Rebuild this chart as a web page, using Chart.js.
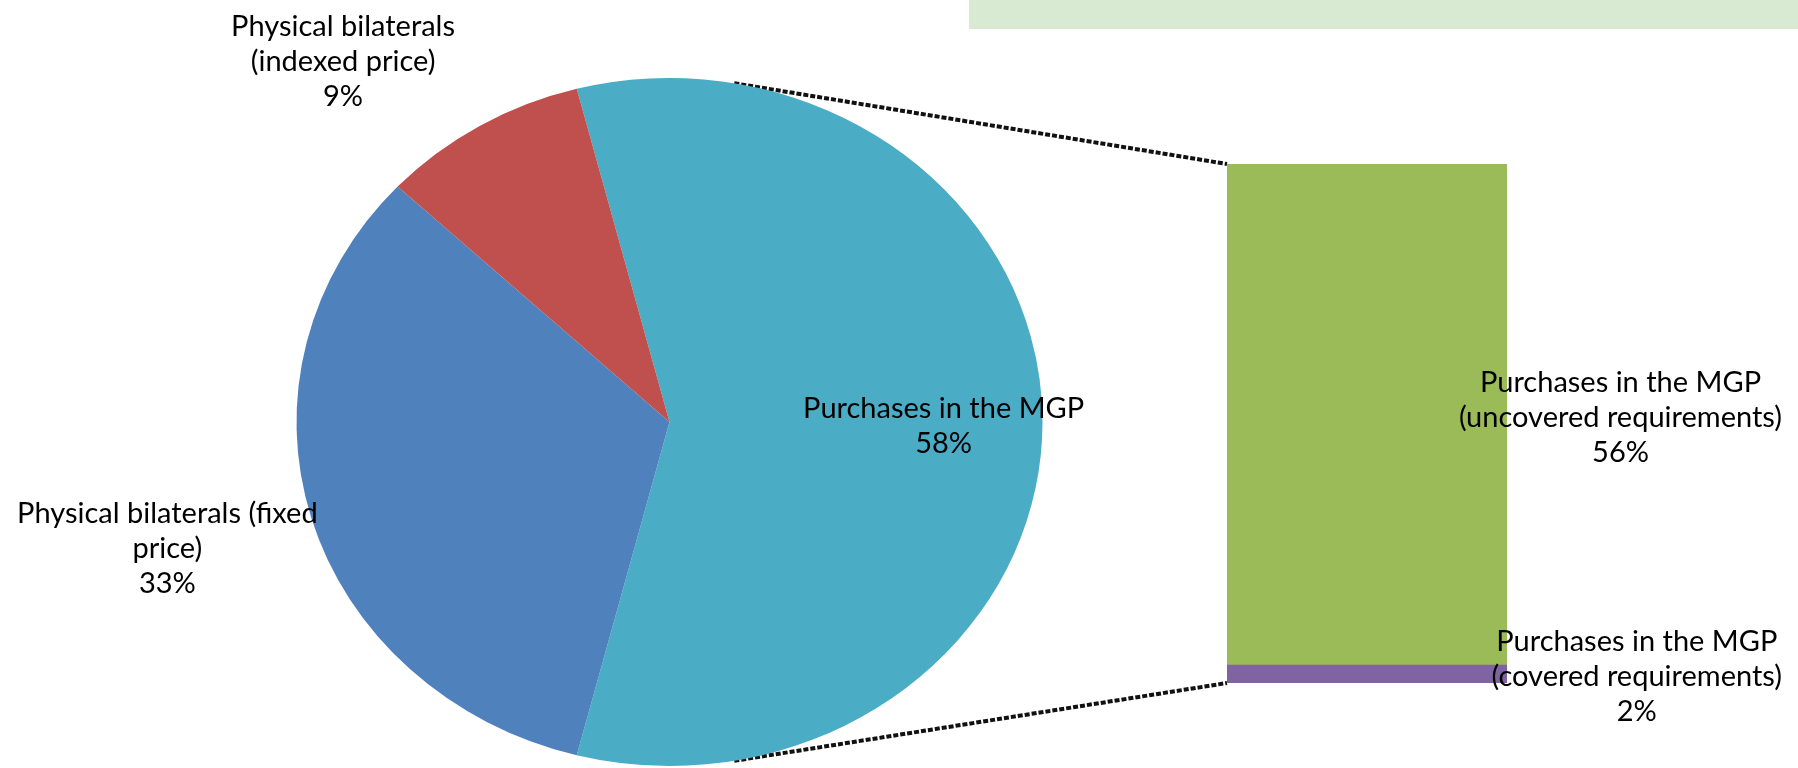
<!DOCTYPE html>
<html>
<head>
<meta charset="utf-8">
<title>Purchases in the MGP and physical bilaterals</title>
<script src="https://cdn.jsdelivr.net/npm/chart.js@4.4.1/dist/chart.umd.min.js"></script>
<style>
  html, body { margin: 0; padding: 0; background: #fff; }
  #wrap { position: relative; width: 1798px; height: 768px; overflow: hidden; }
  #wrap canvas { position: absolute; left: 0; top: 0; }
  #band { position: absolute; left: 969px; top: 0; width: 829px; height: 29px; background: #d9ead3; }
</style>
</head>
<body>
<div id="wrap">
  <div id="band"></div>
  <canvas id="pieChart" width="1798" height="768"></canvas>
  <canvas id="barChart" width="1798" height="768"></canvas>
</div>
<script>
// pie: split of total purchases (%)
const pieLabels = [
  ['Purchases in the MGP'],
  ['Physical bilaterals (fixed', 'price)'],
  ['Physical bilaterals', '(indexed price)']
];
const pieValues = [58, 33, 9];
const pieColors = ['#4bacc6', '#4f81bd', '#c0504d'];

// secondary bar: breakdown of the MGP slice (%), bottom segment first
const barLabels = [
  ['Purchases in the MGP', '(covered requirements)'],
  ['Purchases in the MGP', '(uncovered requirements)']
];
const barValues = [2, 56];
const barColors = ['#8064a2', '#9bbb59'];

// layout
const W = 1798, H = 768;
const PIE_CX = 669.5, PIE_CY = 422, PIE_R = 344, PIE_RX = 373;
const STRETCH = PIE_RX / PIE_R;      // the original pie is a little wider than tall
const BAR_LEFT = 1227, BAR_RIGHT = 1507, BAR_TOP = 164, BAR_BOTTOM = 683;
const LABEL_RIGHT = 1782;
const FONT = '29px Lato';
const LINE_H = 35;
const deg = Math.PI / 180;

function drawBlock(ctx, lines, cx, cy) {
  const top = cy - (lines.length - 1) * LINE_H / 2;
  lines.forEach((t, i) => ctx.fillText(t, cx, top + i * LINE_H));
}

function pct(v, total) {
  return Math.round(v / total * 100) + '%';
}

// labels to the right of the bar segments, right-aligned block, lines centred
const barLabelPlugin = {
  id: 'barLabels',
  afterDatasetsDraw(chart) {
    const ctx = chart.ctx;
    const total = barValues.reduce((a, b) => a + b, 0) + pieValues.slice(1).reduce((a, b) => a + b, 0);
    ctx.save();
    ctx.font = FONT;
    ctx.fillStyle = '#000';
    ctx.textAlign = 'center';
    ctx.textBaseline = 'middle';
    barValues.forEach((v, i) => {
      const bar = chart.getDatasetMeta(i).data[0];
      const lines = barLabels[i].concat([pct(v, total)]);
      const maxW = Math.max(...lines.map(t => ctx.measureText(t).width));
      drawBlock(ctx, lines, LABEL_RIGHT - maxW / 2, (bar.y + bar.base) / 2 + 3);
    });
    ctx.restore();
  }
};

const barTotal = barValues.reduce((a, b) => a + b, 0);
const barChart = new Chart(document.getElementById('barChart'), {
  type: 'bar',
  data: {
    labels: ['MGP'],
    datasets: barValues.map((v, i) => ({
      label: barLabels[i].join(' '),
      data: [v],
      backgroundColor: barColors[i],
      borderWidth: 0,
      barPercentage: 1,
      categoryPercentage: 1
    }))
  },
  options: {
    responsive: false,
    animation: false,
    layout: { padding: { left: BAR_LEFT, right: W - BAR_RIGHT, top: BAR_TOP, bottom: H - BAR_BOTTOM } },
    scales: {
      x: { display: false, stacked: true },
      y: { display: false, stacked: true, min: 0, max: barTotal }
    },
    plugins: { legend: { display: false }, tooltip: { enabled: false } }
  },
  plugins: [barLabelPlugin]
});

// dotted series lines from the pie edge to the bar corners
const connectorPlugin = {
  id: 'connectors',
  beforeDatasetsDraw(chart) {
    const ctx = chart.ctx;
    const arc = chart.getDatasetMeta(0).data[0];
    const r = arc.outerRadius;
    const a = 10 * deg;
    const top = barChart.getDatasetMeta(1).data[0];
    const bottom = barChart.getDatasetMeta(0).data[0];
    ctx.save();
    ctx.strokeStyle = '#111';
    ctx.lineWidth = 4;
    ctx.setLineDash([5, 2]);
    ctx.beginPath();
    ctx.moveTo(arc.x + r * STRETCH * Math.sin(a), arc.y - r * Math.cos(a));
    ctx.lineTo(top.x - top.width / 2, top.y);
    ctx.moveTo(arc.x + r * STRETCH * Math.sin(a), arc.y + r * Math.cos(a));
    ctx.lineTo(bottom.x - bottom.width / 2, bottom.base);
    ctx.stroke();
    ctx.restore();
  }
};

// stretch the circle horizontally into the ellipse of the original
const stretchPlugin = {
  id: 'stretch',
  beforeDatasetsDraw(chart) {
    const arc = chart.getDatasetMeta(0).data[0];
    const ctx = chart.ctx;
    ctx.save();
    ctx.translate(arc.x, arc.y);
    ctx.scale(STRETCH, 1);
    ctx.translate(-arc.x, -arc.y);
  },
  afterDatasetsDraw(chart) {
    chart.ctx.restore();
  }
};

// radial factor and angle nudge for each pie label
const pieLabelPlace = [[0.735, 0], [1.395, 1], [1.373, -9]];

const pieLabelPlugin = {
  id: 'pieLabels',
  afterDraw(chart) {
    const ctx = chart.ctx;
    const total = pieValues.reduce((a, b) => a + b, 0);
    ctx.save();
    ctx.font = FONT;
    ctx.fillStyle = '#000';
    ctx.textAlign = 'center';
    ctx.textBaseline = 'middle';
    chart.getDatasetMeta(0).data.forEach((arc, i) => {
      const [f, nudge] = pieLabelPlace[i];
      const mid = (arc.startAngle + arc.endAngle) / 2 + nudge * deg;
      const x = arc.x + arc.outerRadius * f * STRETCH * Math.cos(mid);
      const y = arc.y + arc.outerRadius * f * Math.sin(mid);
      drawBlock(ctx, pieLabels[i].concat([pct(pieValues[i], total)]), x, y + (i === 1 ? 1 : 4));
    });
    ctx.restore();
  }
};

const pieTotal = pieValues.reduce((a, b) => a + b, 0);
const pieChart = new Chart(document.getElementById('pieChart'), {
  type: 'pie',
  data: {
    labels: pieLabels.map(l => l.join(' ')),
    datasets: [{ data: pieValues, backgroundColor: pieColors, borderWidth: 0 }]
  },
  options: {
    responsive: false,
    animation: false,
    // centre the MGP slice on the horizontal, pointing at the bar
    rotation: 90 - pieValues[0] / pieTotal * 180,
    layout: {
      padding: { left: PIE_CX - PIE_R, right: W - PIE_CX - PIE_R, top: PIE_CY - PIE_R, bottom: H - PIE_CY - PIE_R }
    },
    plugins: { legend: { display: false }, tooltip: { enabled: false } }
  },
  plugins: [connectorPlugin, stretchPlugin, pieLabelPlugin]
});
</script>
</body>
</html>
